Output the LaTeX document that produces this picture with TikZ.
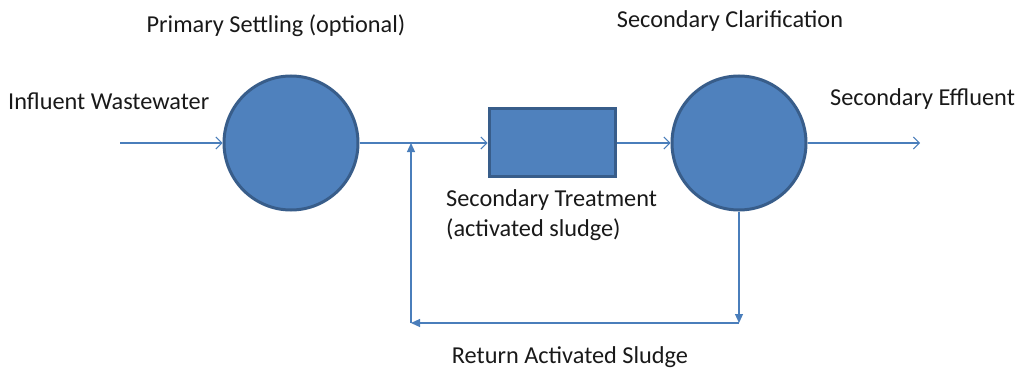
\documentclass[tikz,border=0pt]{standalone}
\usepackage{fontspec}
\setmainfont{Carlito}
\usetikzlibrary{arrows.meta}
\definecolor{fillblue}{HTML}{4F81BD}
\definecolor{edgeblue}{HTML}{385D8A}
\definecolor{lineblue}{HTML}{4A7EBB}
\begin{document}
\begin{tikzpicture}[x=1pt,y=-1pt,
  tank/.style={circle,fill=fillblue,draw=edgeblue,line width=3pt,minimum size=134pt,inner sep=0pt},
  reactor/.style={rectangle,fill=fillblue,draw=edgeblue,line width=3pt,minimum width=126pt,minimum height=68pt,inner sep=0pt},
  flow/.style={draw=lineblue,line width=1.2pt,-{Straight Barb[length=6pt,width=12pt,line width=1pt]}},
  ret/.style={draw=lineblue,line width=1.2pt,-{Triangle[length=9pt,width=8pt]}},
  lbl/.style={font=\fontsize{24.3}{28}\selectfont,text=black!90,inner sep=0pt}]
\useasboundingbox (0,0) rectangle (1019,369);
\node[tank] (c1) at (291,143) {};
\node[tank] (c2) at (739,143) {};
\node[reactor] (r) at (552,142) {};
\coordinate (in) at (120,143);
\coordinate (out) at (920,143);
\coordinate (j) at (411,143);
\coordinate (bl) at (411,323);
\coordinate (br) at (739,323);
\draw[flow] (in) -- (c1.west);
\draw[flow] (c1.east) -- (r.west |- c1.east);
\draw[flow] (r.east |- c2.west) -- (c2.west);
\draw[flow] (c2.east) -- (out);
\draw[ret] (c2.south) -- (br);
\draw[ret] (br) -- (bl);
\draw[ret] (bl) -- (j);
\node[lbl] (t1) at (276,26) {Primary Settling (optional)};
\node[lbl,anchor=west] (t2) at (8,101) {Influent Wastewater};
\node[lbl] (t3) at (730,21) {Secondary Clarification};
\node[lbl,anchor=west] (t4) at (830,99) {Secondary Effluent};
\node[lbl,anchor=west] (t5) at (446,200) {Secondary Treatment};
\node[lbl,anchor=west] (t6) at (446,230) {(activated sludge)};
\node[lbl] (t7) at (570,357) {Return Activated Sludge};
\end{tikzpicture}
\end{document}
